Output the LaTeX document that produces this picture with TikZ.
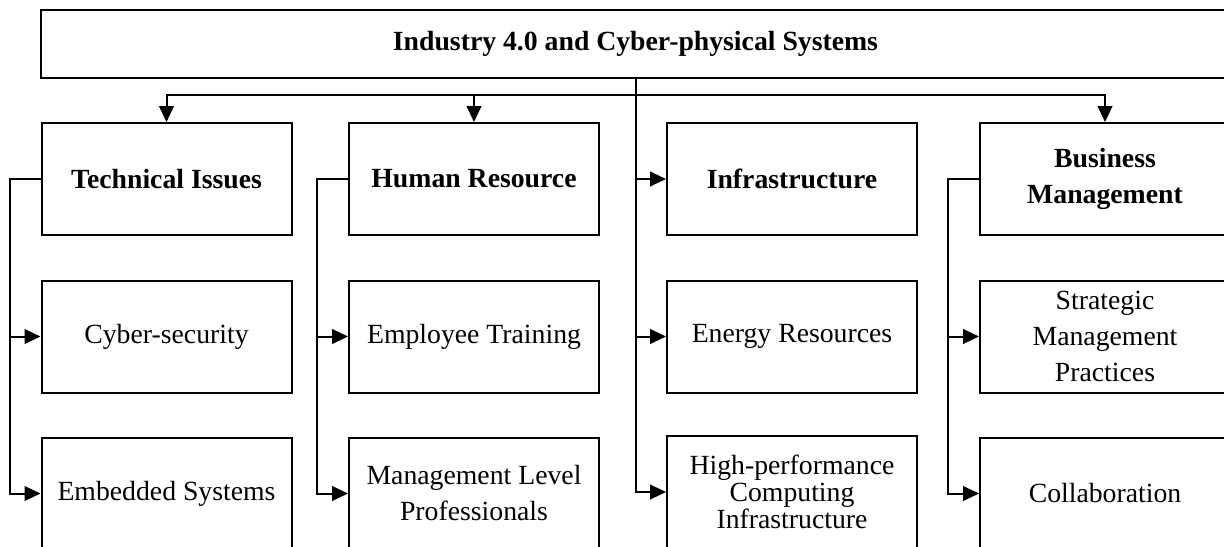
\documentclass[tikz,border=0pt]{standalone}
\usepackage{fontspec}
\setmainfont{Liberation Serif}
\usetikzlibrary{arrows.meta}
\tikzset{
  px/.style={x=0.75pt,y=-0.75pt},
  box/.style={draw, line width=1.5pt, minimum width=187.5pt, minimum height=84pt,
    inner sep=0pt, align=center, font=\fontsize{20.8}{27}\selectfont},
  headbox/.style={box, font=\fontsize{20.8}{27}\selectfont\bfseries},
  topbox/.style={draw, line width=1.5pt, minimum width=891.75pt, minimum height=51pt,
    inner sep=0pt, align=center, font=\fontsize{20.8}{27}\selectfont\bfseries},
  conn/.style={line width=1.5pt},
  arr/.style={conn, -{Triangle[length=12pt,width=11pt]}}
}
\begin{document}
\begin{tikzpicture}[px]
\useasboundingbox (0,0) rectangle (1224,546);
\clip (0,0) rectangle (1224,546);
\fill[white] (0,0) rectangle (1224,546);

\node[topbox] (T) at (635.5,44) {Industry 4.0 and Cyber-physical Systems};

% row 1
\node[headbox] (c1r1) at (166.5,179) {Technical Issues};
\node[headbox] (c2r1) at (474,179) {Human Resource};
\node[headbox] (c3r1) at (792,179) {Infrastructure};
\node[headbox] (c4r1) at (1105,179) {Business\\Management};
% row 2
\node[box] (c1r2) at (166.5,336.5) {Cyber-security};
\node[box] (c2r2) at (474,336.5) {Employee Training};
\node[box] (c3r2) at (792,336.5) {Energy Resources};
\node[box] (c4r2) at (1105,336.5) {Strategic\\Management\\Practices};
% row 3
\node[box] (c1r3) at (166.5,493.5) {Embedded Systems};
\node[box] (c2r3) at (474,493.5) {Management Level\\Professionals};
\node[box, font=\fontsize{20.8}{20.5}\selectfont] (c3r3) at (792,492) {High-performance\\Computing\\Infrastructure};
\node[box] (c4r3) at (1105,493.5) {Collaboration};

\coordinate (bus) at (0,95);
\coordinate (sp1) at (10,0);
\coordinate (sp2) at (317,0);
\coordinate (sp4) at (948,0);

% bus
\draw[arr] (T.south |- bus) -| (c1r1.north);
\draw[arr] (T.south |- bus) -| (c2r1.north);
\draw[arr] (T.south |- bus) -| (c4r1.north);

% trunk (column 3)
\draw[arr] (T.south) |- (c3r3.west);
\draw[arr] (T.south |- c3r1.west) -- (c3r1.west);
\draw[arr] (T.south |- c3r2.west) -- (c3r2.west);

% column 1
\draw[arr] (c1r1.west) -| (sp1 |- c1r3.west) -- (c1r3.west);
\draw[arr] (sp1 |- c1r2.west) -- (c1r2.west);
% column 2
\draw[arr] (c2r1.west) -| (sp2 |- c2r3.west) -- (c2r3.west);
\draw[arr] (sp2 |- c2r2.west) -- (c2r2.west);
% column 4
\draw[arr] (c4r1.west) -| (sp4 |- c4r3.west) -- (c4r3.west);
\draw[arr] (sp4 |- c4r2.west) -- (c4r2.west);
\end{tikzpicture}
\end{document}
